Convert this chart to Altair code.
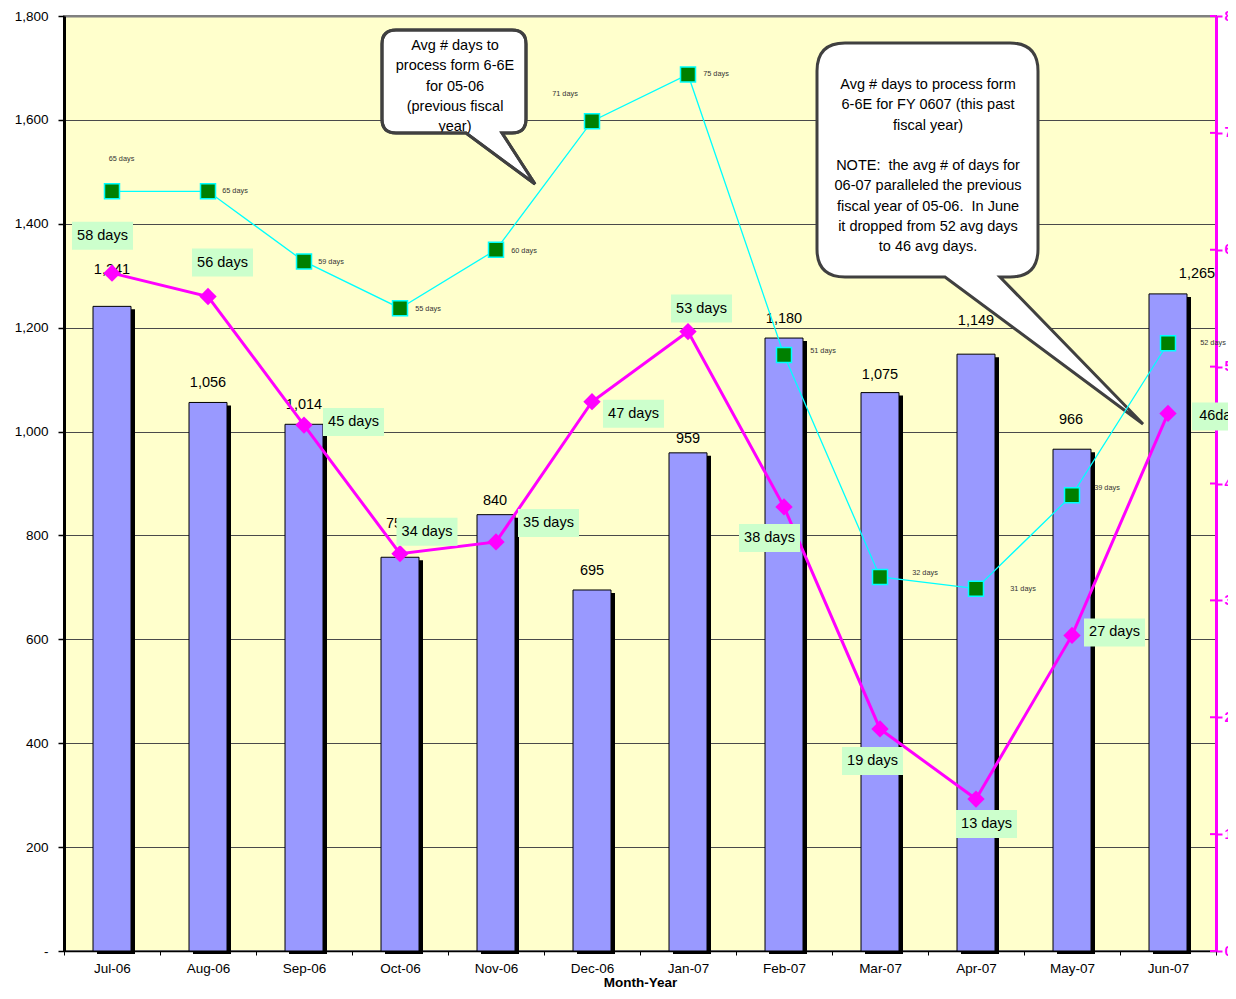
import altair as alt
import pandas as pd

# ---------------- data ----------------
MONTHS = ["Jul-06", "Aug-06", "Sep-06", "Oct-06", "Nov-06", "Dec-06",
          "Jan-07", "Feb-07", "Mar-07", "Apr-07", "May-07", "Jun-07"]
FORMS = [1241, 1056, 1014, 758, 840, 695, 959, 1180, 1075, 1149, 966, 1265]
DAYS_0607 = [58, 56, 45, 34, 35, 47, 53, 38, 19, 13, 27, 46]
DAYS_0506 = [65, 65, 59, 55, 60, 71, 75, 51, 32, 31, 39, 52]
LABELS_0607 = ["58 days", "56 days", "45 days", "34 days", "35 days", "47 days",
               "53 days", "38 days", "19 days", "13 days", "27 days", "46days"]
LABELS_0506 = ["65 days", "65 days", "59 days", "55 days", "60 days", "71 days",
               "75 days", "51 days", "32 days", "31 days", "39 days", "52 days"]
COUNT_TICKS = [0, 200, 400, 600, 800, 1000, 1200, 1400, 1600, 1800]
DAY_TICKS = [0, 10, 20, 30, 40, 50, 60, 70, 80]
NB = "\u00a0"
CALLOUT_1 = ["Avg # days to", "process form 6-6E", "for 05-06",
             "(previous fiscal", "year)"]
CALLOUT_2A = ["Avg # days to process form", "6-6E for FY 0607 (this past",
              "fiscal year)"]
CALLOUT_2B = [f"NOTE:{NB} the avg # of days for",
              "06-07 paralleled the previous", f"fiscal year of 05-06.{NB} In June",
              "it dropped from 52 avg days", "to 46 avg days."]

# ------------- label placement (pixel offsets, not data) -------------
COUNT_DX = [0, 0, 0, -2, -1, 0, 0, 0, 0, 0, -1, 29]
COUNT_DY = [-36, -19, -19, -33, -14, -19, -14, -19, -18, -33, -29, -20]
CUR_DX = [-9.5, 14.5, 49.5, 27, 52.5, 41.5, 13.5, -14.5, -7.5, 10.5, 42.5, 54.5]
CUR_DY = [-37.5, -34, -3, -22, -19, 12, -23, 31, 32, 25, -3, 3]
PREV_DX = [9.5, 27, 27, 28, 28, -27, 28, 39, 45, 47, 35, 45]
PREV_DY = [-32, 0, 1, 1, 1, -27, 0, -4, -4, 0, -7, 0]

W, H = 1152, 935
FONT = "Liberation Sans"

df = pd.DataFrame({
    "month": MONTHS,
    "forms": FORMS,
    "forms_label": [f"{v:,}" for v in FORMS],
    "cur": DAYS_0607,
    "prev": DAYS_0506,
    "cur_label": LABELS_0607,
    "prev_label": LABELS_0506,
})

x_axis = alt.Axis(title="Month-Year", labelAngle=0, tickBand="extent",
                  domainColor="black", domainWidth=1.5, tickColor="black",
                  tickSize=4, labelFontSize=13.5, labelPadding=6, labelColor="black",
                  titleFontSize=13.5, titleFontWeight="bold", titlePadding=1,
                  titleColor="black")
X = alt.X("month:N", sort=MONTHS,
          scale=alt.Scale(paddingInner=0, paddingOuter=0), axis=x_axis)

left_axis = alt.Axis(title=None, values=COUNT_TICKS,
                     labelExpr="datum.value == 0 ? '-' : format(datum.value, ',')",
                     domainColor="black", domainWidth=3, tickColor="black",
                     tickWidth=1.5, tickSize=6, labelFontSize=13.5, labelPadding=10,
                     labelColor="black", grid=True,
                     gridColor={"condition": {"test": "datum.value >= 1800", "value": "#808080"},
                                "value": "#4a4a4a"},
                     gridWidth={"condition": {"test": "datum.value >= 1800", "value": 2},
                                "value": 1})
COUNT_SCALE = alt.Scale(domain=[0, 1800], nice=False)

right_axis = alt.Axis(title=None, orient="right", values=DAY_TICKS, grid=False,
                      domainColor="#FF00FF", domainWidth=3, tickColor="#FF00FF",
                      tickWidth=2, tickSize=6, labelColor="#FF00FF",
                      labelFontWeight="bold", labelFontSize=14.5, labelPadding=2)
DAY_SCALE = alt.Scale(domain=[0, 80], nice=False)


def YL(field):
    return alt.Y(f"{field}:Q", scale=COUNT_SCALE, axis=left_axis)


def YR(field):
    return alt.Y(f"{field}:Q", scale=DAY_SCALE, axis=right_axis)


base = alt.Chart(df)
one = alt.Chart(alt.Data(values=[{"k": 1}]))

# ---------------- bars ----------------
shadow = base.mark_bar(size=38, color="black", xOffset=4, yOffset=3).encode(
    x=X, y=YL("forms"))
bars = base.mark_bar(size=38, color="#9999FF", stroke="black", strokeWidth=1).encode(
    x=X, y=YL("forms"))

left_layers = [shadow, bars]
for i, m in enumerate(MONTHS):
    left_layers.append(
        base.transform_filter(alt.datum.month == m)
        .mark_text(fontSize=14.5, color="black", baseline="middle",
                   dx=COUNT_DX[i], dy=COUNT_DY[i])
        .encode(x=X, y=YL("forms"), text="forms_label:N"))


# ---------------- callouts ----------------
def callout_path(L, T, R, B, r, bl, br, tx, ty, cx, cy, k):
    def p(x, y):
        return f"{(x - cx) / k:.4f},{(y - cy) / k:.4f}"
    return (f"M{p(L + r, T)} L{p(R - r, T)} Q{p(R, T)} {p(R, T + r)} "
            f"L{p(R, B - r)} Q{p(R, B)} {p(R - r, B)} L{p(br, B)} L{p(tx, ty)} "
            f"L{p(bl, B)} L{p(L + r, B)} Q{p(L, B)} {p(L, B - r)} "
            f"L{p(L, T + r)} Q{p(L, T)} {p(L + r, T)} Z")


K = 200.0
SIZE = (2 * K) ** 2
c1 = dict(L=318, T=14, R=462, B=117, r=14, bl=402, br=438, tx=471, ty=168, cx=390, cy=90)
c2 = dict(L=753, T=27, R=974, B=261, r=28, bl=881, br=936, tx=1079, ty=408, cx=900, cy=200)
for c in (c1, c2):
    path = callout_path(k=K, **c)
    left_layers.append(
        one.mark_point(shape=path, size=SIZE, filled=True, fill="white",
                       stroke="#404040", strokeWidth=3, opacity=1, strokeJoin="miter")
        .encode(x=alt.value(c["cx"]), y=alt.value(c["cy"])))

for lines, cx, cy in ((CALLOUT_1, 391, 30), (CALLOUT_2A, 864, 69), (CALLOUT_2B, 864, 150)):
    left_layers.append(
        one.mark_text(text=lines, fontSize=14.5, lineHeight=20.25, align="center",
                      baseline="middle", color="black")
        .encode(x=alt.value(cx), y=alt.value(cy)))
left_layers.append(
    one.mark_point(shape=callout_path(k=K, **c1), size=SIZE, filled=False,
                   stroke="#404040", strokeWidth=3, opacity=1)
    .encode(x=alt.value(c1["cx"]), y=alt.value(c1["cy"])))

left = alt.layer(*left_layers)

# ---------------- day lines ----------------
right_layers = []
right_layers.append(base.mark_line(color="#00FFFF", strokeWidth=1.3).encode(x=X, y=YR("prev")))
right_layers.append(base.mark_point(shape="square", filled=True, fill="#008000",
                                    stroke="#00FFFF", strokeWidth=1.5, size=225, opacity=1)
                    .encode(x=X, y=YR("prev")))
for i, m in enumerate(MONTHS):
    right_layers.append(
        base.transform_filter(alt.datum.month == m)
        .mark_text(fontSize=7.3, color="#333333", baseline="middle",
                   dx=PREV_DX[i], dy=PREV_DY[i])
        .encode(x=X, y=YR("prev"), text="prev_label:N"))

right_layers.append(base.mark_line(color="#FF00FF", strokeWidth=3).encode(x=X, y=YR("cur")))
right_layers.append(base.mark_point(shape="diamond", filled=True, color="#FF00FF",
                                    size=300, opacity=1)
                    .encode(x=X, y=YR("cur")))

BOX = "M-1,-0.459 L1,-0.459 L1,0.459 L-1,0.459 Z"
for i, m in enumerate(MONTHS):
    sel = base.transform_filter(alt.datum.month == m)
    right_layers.append(
        sel.mark_point(shape=BOX, size=61 ** 2, filled=True, fill="#CCFFCC",
                       strokeWidth=0, opacity=1, xOffset=CUR_DX[i], yOffset=CUR_DY[i])
        .encode(x=X, y=YR("cur")))
    right_layers.append(
        sel.mark_text(fontSize=14.5, color="black", baseline="middle",
                      dx=CUR_DX[i], dy=CUR_DY[i])
        .encode(x=X, y=YR("cur"), text="cur_label:N"))

right_layers.append(
    alt.Chart(pd.DataFrame({"cur": DAY_TICKS})).mark_rule(color="#FF00FF", strokeWidth=2)
    .encode(x=alt.value(W - 6), x2=alt.value(W), y=YR("cur")))

right = alt.layer(*right_layers)

chart = (alt.layer(left, right)
         .resolve_scale(y="independent")
         .properties(width=W, height=H,
                     autosize=alt.AutoSizeParams(type="none"),
                     padding={"left": 56, "top": 8, "right": 12, "bottom": 40},
                     background="white")
         .configure(font=FONT)
         .configure_view(fill="#FFFFCC", stroke="#808080", strokeWidth=2))

chart.save("out.html", embed_options={"renderer": "svg", "actions": False})
